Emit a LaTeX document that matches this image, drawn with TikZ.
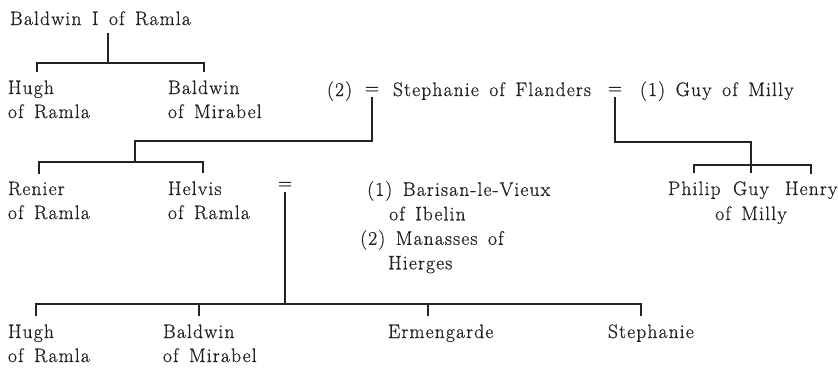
\documentclass[tikz,border=0pt]{standalone}
\usepackage{fontspec}
\setmainfont{Latin Modern Roman}[LetterSpace=6,WordSpace=1.5,FakeBold=0.8]
\definecolor{inkgray}{RGB}{35,35,35}
\tikzset{person/.style={anchor=base west,inner sep=0pt,outer xsep=0pt,outer ysep=8pt,text=inkgray},
  wed/.style={anchor=base,inner sep=0pt,outer ysep=3pt,text=inkgray},
  kin/.style={draw=inkgray,line width=2pt}}

\begin{document}
\begin{tikzpicture}[x=1pt,y=-1pt,font=\fontsize{19.5}{24.5}\selectfont]
\useasboundingbox (0,0) rectangle (838,373);
% first generation
\node [person] (bald) at (10,25) {Baldwin I of Ramla};
\node [person] (hugh1) at (8,94) {Hugh};
\node [person] (hugh1b) at ([yshift=-24pt]hugh1.base west) {of Ramla};
\node [person] (bald1) at (168,94) {Baldwin};
\node [person] (bald1b) at ([yshift=-24pt]bald1.base west) {of Mirabel};
% Stephanie and her husbands
\node [person] (two) at (327,96) {(2)};
\node [wed] (eq1) at (372,94) {=};
\node [person] (steph0) at (393,96) {Stephanie of Flanders};
\node [wed] (eq2) at (615,94) {=};
\node [person] (guy0) at (640,96) {(1) Guy of Milly};
% second generation
\node [person] (renier) at (8,195) {Renier};
\node [person] (renierb) at ([yshift=-24pt]renier.base west) {of Ramla};
\node [person] (helvis) at (168,195) {Helvis};
\node [person] (helvisb) at ([yshift=-24pt]helvis.base west) {of Ramla};
\node [wed] (eq3) at (285,189) {=};
\node [anchor=north west,inner sep=0pt,align=left,text=inkgray] (husb) at (360,181)
  {\hspace*{7pt}(1) Barisan-le-Vieux\\ \hspace*{29pt}of Ibelin\\ (2) Manasses of\\ \hspace*{28pt}Hierges};
\node [person] (philip) at (668,195) {Philip};
\node [person,anchor=base] (guy) at (751,195) {Guy};
\node [person,anchor=base] (milly) at ([yshift=-25pt]guy.base) {of Milly};
\node [person] (henry) at (785,195) {Henry};
% third generation
\node [person] (hugh2) at (8,338) {Hugh};
\node [person] (hugh2b) at ([yshift=-24pt]hugh2.base west) {of Ramla};
\node [person] (bald2) at (163,338) {Baldwin};
\node [person] (bald2b) at ([yshift=-24pt]bald2.base west) {of Mirabel};
\node [person] (erm) at (388,338) {Ermengarde};
\node [person] (steph) at (608,338) {Stephanie};

% Baldwin I's sons
\coordinate (fork1) at (108,63);
\draw [kin] (bald.south -| fork1) -- (fork1);
\draw [kin] ([xshift=6pt]hugh1.north) |- (fork1) -| (bald1.north);
% children of the second marriage
\coordinate (fork2) at (135,141);
\coordinate (fork3) at (135,162);
\draw [kin] (eq1.south) |- (fork2) -- (fork3);
\draw [kin] ([xshift=3pt]renier.north) |- (fork3) -| ([xshift=8pt]helvis.north);
% children of the first marriage
\coordinate (fork4) at (751,142);
\coordinate (fork5) at (751,165);
\draw [kin] (eq2.south) |- (fork4) -- (fork5);
\draw [kin] (philip.north) |- (fork5) -| (henry.north);
\draw [kin] (fork5) -- (guy.north);
% Helvis's children
\coordinate (fork6) at (285,304);
\draw [kin] (eq3.south) -- (fork6);
\draw [kin] ([xshift=5pt]hugh2.north) |- (fork6) -| ([xshift=-10pt]steph.north);
\draw [kin] (bald2.north) -- (bald2.north |- fork6);
\draw [kin] ([xshift=-13pt]erm.north) -- ([xshift=-13pt]erm.north |- fork6);
\end{tikzpicture}
\end{document}
